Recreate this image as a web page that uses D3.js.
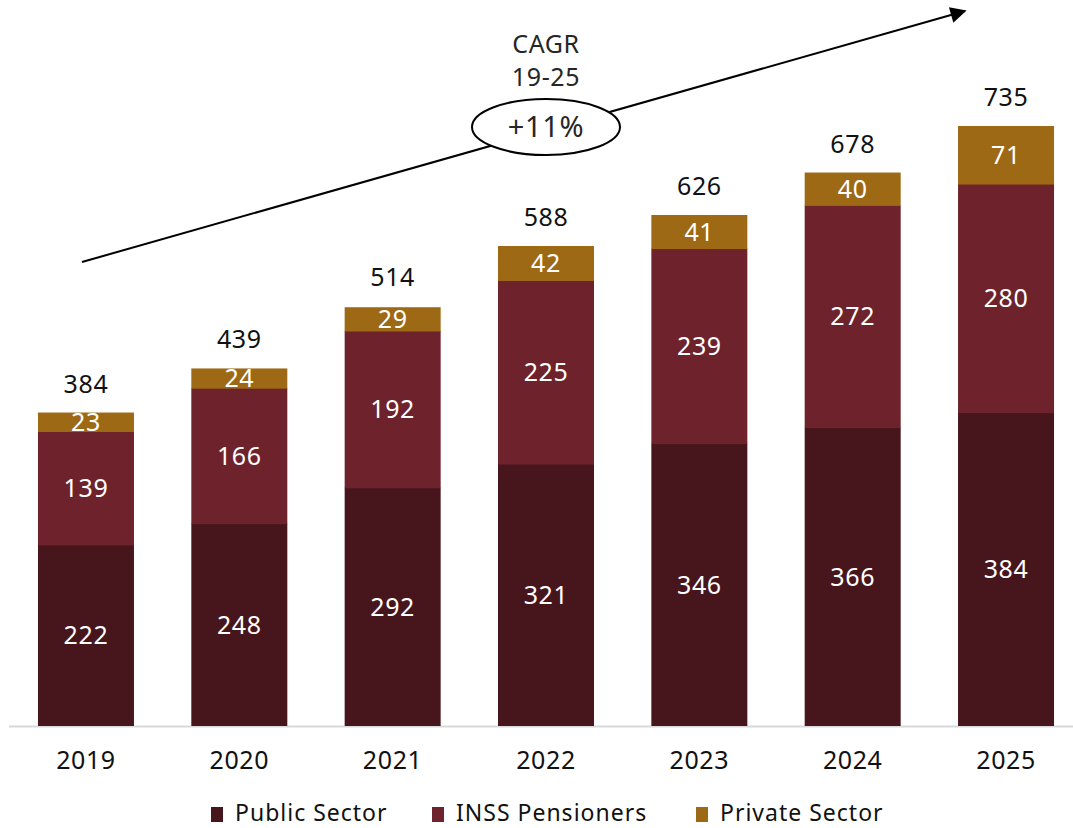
<!DOCTYPE html>
<html>
<head>
<meta charset="utf-8">
<script src="https://cdn.jsdelivr.net/npm/d3@7"></script>
<style>
  html, body { margin: 0; padding: 0; background: #fff; }
  svg text { font-family: "Noto Sans", Lato, sans-serif; letter-spacing: 0.6px; }
</style>
</head>
<body>
<svg id="chart" width="1073" height="828"></svg>
<script>
// Data
const years = ["2019", "2020", "2021", "2022", "2023", "2024", "2025"];
const publicSector = [222, 248, 292, 321, 346, 366, 384];
const inssPensioners = [139, 166, 192, 225, 239, 272, 280];
const privateSector = [23, 24, 29, 42, 41, 40, 71];
const totals = [384, 439, 514, 588, 626, 678, 735];
const seriesNames = ["Public Sector", "INSS Pensioners", "Private Sector"];
const seriesColors = ["#47161d", "#6e232c", "#9d6914"];
const cagrLines = ["CAGR", "19-25"];
const cagrValue = "+11%";

const svg = d3.select("#chart");
const baseline = 726;

const x = d3.scaleBand()
  .domain(years)
  .range([9.3, 1082.7])
  .paddingInner(0.374)
  .paddingOuter(0.187);

const y = d3.scaleLinear()
  .domain([0, 735])
  .range([baseline, 126]);

const rows = years.map((yr, i) => ({
  year: yr,
  "Public Sector": publicSector[i],
  "INSS Pensioners": inssPensioners[i],
  "Private Sector": privateSector[i],
  total: totals[i]
}));

const stack = d3.stack().keys(seriesNames);
const layers = stack(rows);

// axis baseline
svg.append("line")
  .attr("x1", 9).attr("x2", 1073)
  .attr("y1", baseline + 0.5).attr("y2", baseline + 0.5)
  .attr("stroke", "#d9d9d9").attr("stroke-width", 2);

// stacked bars
const g = svg.append("g");
layers.forEach((layer, li) => {
  g.selectAll(null)
    .data(layer)
    .join("rect")
    .attr("x", d => x(d.data.year))
    .attr("width", x.bandwidth())
    .attr("y", d => y(d[1]))
    .attr("height", d => y(d[0]) - y(d[1]) + (li === 0 ? 0 : 0.6))
    .attr("fill", seriesColors[li]);
});
layers.forEach((layer) => {
  g.selectAll(null)
    .data(layer)
    .join("text")
    .attr("x", d => x(d.data.year) + x.bandwidth() / 2)
    .attr("y", d => (y(d[0]) + y(d[1])) / 2)
    .attr("dy", "0.36em")
    .attr("text-anchor", "middle")
    .attr("fill", "#ffffff")
    .attr("font-size", 25)
    .text(d => d[1] - d[0]);
});

// totals
svg.selectAll(".total")
  .data(rows)
  .join("text")
  .attr("class", "total")
  .attr("x", d => x(d.year) + x.bandwidth() / 2)
  .attr("y", d => y(d.total) - 29)
  .attr("dy", "0.36em")
  .attr("text-anchor", "middle")
  .attr("fill", "#111")
  .attr("font-size", 25)
  .text(d => d.total);

// x axis labels
const xAxis = d3.axisBottom(x).tickSize(0).tickPadding(0);
const ax = svg.append("g")
  .attr("transform", `translate(0, ${baseline})`)
  .call(xAxis);
ax.select(".domain").remove();
ax.selectAll("text")
  .attr("y", 34)
  .attr("dy", "0.36em")
  .attr("font-size", 25)
  .attr("fill", "#111")
  .style("font-family", '"Noto Sans", Lato, sans-serif');

// growth arrow
const defs = svg.append("defs");
defs.append("marker")
  .attr("id", "arrowhead")
  .attr("viewBox", "0 0 10 10")
  .attr("refX", 9).attr("refY", 5)
  .attr("markerWidth", 18).attr("markerHeight", 16)
  .attr("markerUnits", "userSpaceOnUse")
  .attr("orient", "auto")
  .append("path")
  .attr("d", "M0,0 L10,5 L0,10 Z")
  .attr("fill", "#000");

svg.append("line")
  .attr("x1", 82).attr("y1", 262)
  .attr("x2", 965).attr("y2", 11)
  .attr("stroke", "#000").attr("stroke-width", 2)
  .attr("marker-end", "url(#arrowhead)");

// CAGR bubble
svg.append("ellipse")
  .attr("cx", 546).attr("cy", 127)
  .attr("rx", 74).attr("ry", 28)
  .attr("fill", "#fff")
  .attr("stroke", "#000").attr("stroke-width", 2);

svg.append("text")
  .attr("x", 546).attr("y", 127)
  .attr("dy", "0.36em")
  .attr("text-anchor", "middle")
  .attr("font-size", 29)
  .attr("fill", "#262626")
  .text(cagrValue);

svg.selectAll(".cagr")
  .data(cagrLines)
  .join("text")
  .attr("class", "cagr")
  .attr("x", 546)
  .attr("y", (d, i) => 44 + i * 33)
  .attr("dy", "0.36em")
  .attr("text-anchor", "middle")
  .attr("font-size", 25)
  .attr("fill", "#262626")
  .text(d => d);

// legend
const legendX = [211, 432, 696];
const legend = svg.selectAll(".legend")
  .data(seriesNames)
  .join("g")
  .attr("class", "legend")
  .attr("transform", (d, i) => `translate(${legendX[i]}, 811)`);
legend.append("rect")
  .attr("x", 0).attr("y", -4)
  .attr("width", 12).attr("height", 15)
  .attr("fill", (d, i) => seriesColors[i]);
legend.append("text")
  .attr("x", 24).attr("y", 3)
  .attr("dy", "0.32em")
  .attr("font-size", 23)
  .attr("fill", "#111")
  .style("letter-spacing", "1px")
  .text(d => d);
</script>
</body>
</html>
